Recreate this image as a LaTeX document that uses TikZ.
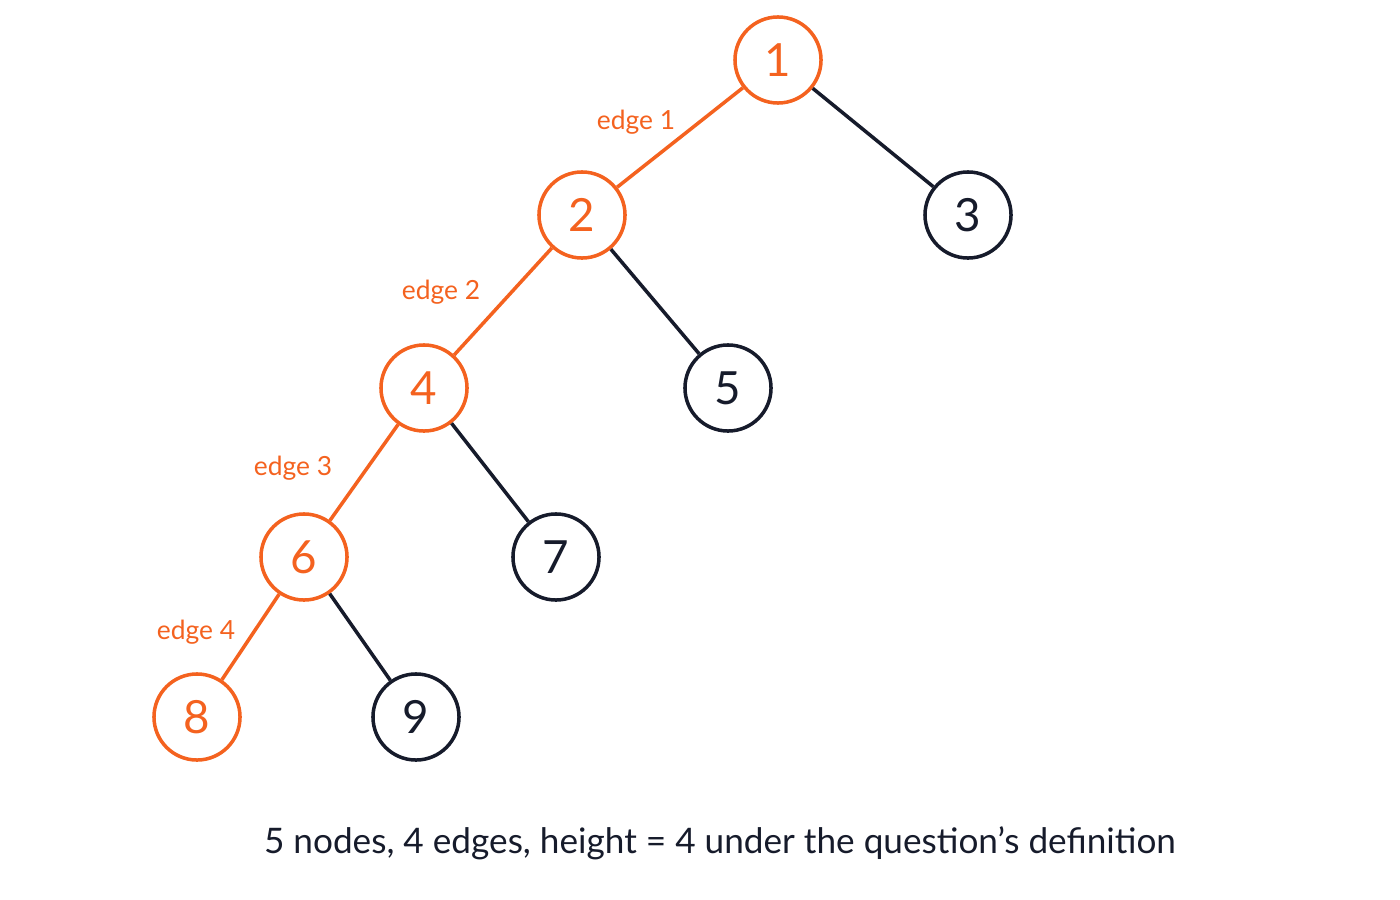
\documentclass[tikz,border=0pt]{standalone}
\usepackage{fontspec}
\setmainfont{Lato}
\usetikzlibrary{positioning}

\definecolor{hot}{HTML}{F4621F}
\definecolor{ink}{HTML}{161B2B}

\begin{document}
\begin{tikzpicture}[x=0.01cm,y=-0.01cm,line width=1pt,
    vertex/.style={circle,draw=ink,text=ink,minimum size=0.86cm,inner sep=0pt,font=\fontsize{13}{13}\selectfont},
    onpath/.style={vertex,draw=hot,text=hot},
    elabel/.style={text=hot,font=\fontsize{7.5}{8}\selectfont}]

  \useasboundingbox (0,0) rectangle (1400,900);

  \node[onpath] (1) at (778,60)  {1};
  \node[onpath] (2) at (582,215) {2};
  \node[vertex] (3) at (968,215) {3};
  \node[onpath] (4) at (424,388) {4};
  \node[vertex] (5) at (728,388) {5};
  \node[onpath] (6) at (304,557) {6};
  \node[vertex] (7) at (556,557) {7};
  \node[onpath] (8) at (197,717) {8};
  \node[vertex] (9) at (416,717) {9};

  \draw[hot] (1) -- (2);
  \draw[hot] (2) -- (4);
  \draw[hot] (4) -- (6);
  \draw[hot] (6) -- (8);
  \draw[ink] (1) -- (3);
  \draw[ink] (2) -- (5);
  \draw[ink] (4) -- (7);
  \draw[ink] (6) -- (9);

  \node[elabel] (e1) at (636,122) {edge 1};
  \node[elabel] (e2) at (441,292) {edge 2};
  \node[elabel] (e3) at (293,468) {edge 3};
  \node[elabel] (e4) at (196,632) {edge 4};

  \node[text=ink,font=\fontsize{10}{12}\selectfont] (cap) at (720,843)
    {5 nodes, 4 edges, height = 4 under the question's definition};
\end{tikzpicture}
\end{document}
